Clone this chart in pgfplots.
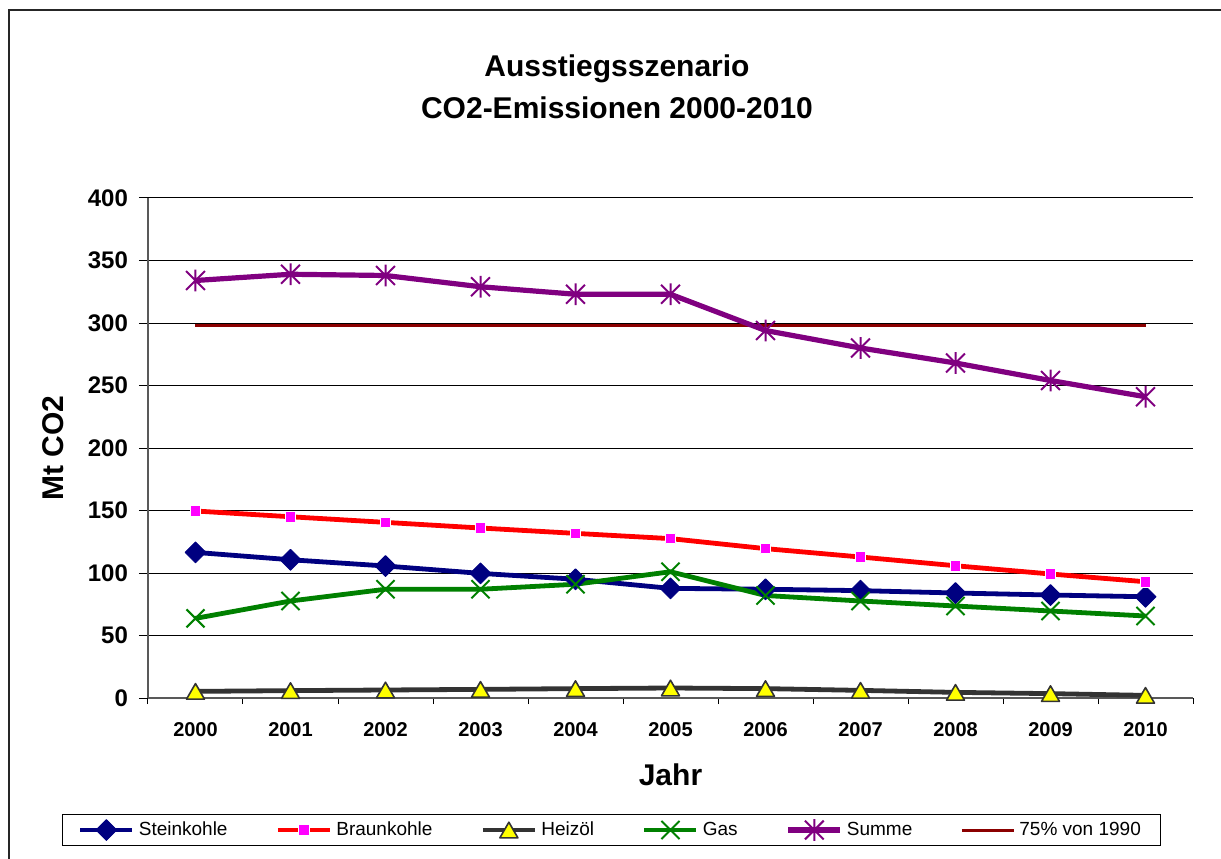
\documentclass[border=0pt]{standalone}
\usepackage{fontspec}
\setmainfont{Liberation Sans}
\usepackage{pgfplots}
\pgfplotsset{compat=1.18}
\definecolor{cNavy}{HTML}{000080}
\definecolor{cRed}{HTML}{FF0000}
\definecolor{cMag}{HTML}{FF00FF}
\definecolor{cDark}{HTML}{333333}
\definecolor{cYel}{HTML}{FFFF00}
\definecolor{cGreen}{HTML}{008000}
\definecolor{cPurple}{HTML}{800080}
\definecolor{cDRed}{HTML}{8B0000}
\pgfdeclareplotmark{xstar}{%
  \pgfpathmoveto{\pgfqpoint{-\pgfplotmarksize}{-\pgfplotmarksize}}%
  \pgfpathlineto{\pgfqpoint{\pgfplotmarksize}{\pgfplotmarksize}}%
  \pgfpathmoveto{\pgfqpoint{-\pgfplotmarksize}{\pgfplotmarksize}}%
  \pgfpathlineto{\pgfqpoint{\pgfplotmarksize}{-\pgfplotmarksize}}%
  \pgfpathmoveto{\pgfqpoint{0pt}{-1.15\pgfplotmarksize}}%
  \pgfpathlineto{\pgfqpoint{0pt}{1.15\pgfplotmarksize}}%
  \pgfusepathqstroke}
\begin{document}
\begin{tikzpicture}[x=1pt,y=1pt]
\useasboundingbox (0,0) rectangle (610.5,429);
\clip (0,0) rectangle (610.5,429);
\draw[line width=1.1pt, black!85] (4.5,-10) rectangle (620,424);
\node[font=\bfseries\fontsize{15}{18}\selectfont] at (308.5,394.5) {Ausstiegsszenario};
\node[font=\bfseries\fontsize{15}{18}\selectfont] at (308.5,375) {CO2-Emissionen 2000-2010};
\begin{axis}[
  at={(74pt,80pt)}, anchor=south west,
  scale only axis, width=522.5pt, height=250pt,
  xmin=-0.5, xmax=10.5, ymin=0, ymax=400,
  xtick={0,...,10},
  xticklabels={2000,2001,2002,2003,2004,2005,2006,2007,2008,2009,2010},
  minor xtick={-0.5,0.5,...,10.5},
  ytick={0,50,...,400},
  axis lines=left,
  axis line style={-, gray!70!black, line width=0.6pt},
  ymajorgrids, grid style={black, line width=0.5pt},
  tick align=outside, major tick length=4.5pt, minor tick length=3pt,
  tick style={black, line width=0.5pt},
  major x tick style={draw=none},
  clip=false,
  /pgf/number format/assume math mode=true,
  xticklabel style={font=\bfseries\fontsize{10}{12}\selectfont, yshift=-4pt},
  yticklabel style={font=\bfseries\fontsize{12}{14}\selectfont, xshift=-2pt},
  xlabel={Jahr}, ylabel={Mt CO2},
  label style={font=\bfseries\fontsize{15}{18}\selectfont},
  ylabel style={at={(axis description cs:-0.091,0.5)}, anchor=center},
  xlabel style={at={(axis description cs:0.5,-0.154)}, anchor=center},
  legend columns=6,
  legend cell align=left,
  legend style={at={(axis description cs:0.4435,-0.264)}, anchor=center,
    draw=black, font=\fontsize{9.5}{11}\selectfont, inner xsep=8pt, inner ysep=1.5pt,
    /tikz/every even column/.append style={column sep=22pt}},
  legend image code/.code={\draw[mark repeat=2,mark phase=2,#1] plot coordinates {(0pt,0pt) (13pt,0pt) (26pt,0pt)};},
  every axis plot/.append style={line join=round},
]
\addplot[cDRed, line width=1.5pt, forget plot] coordinates {(0,298) (10,298)};
\addplot[cNavy, line width=2.4pt, mark=square*, mark size=3.7pt,
  mark options={rotate=45, fill=cNavy, line width=0.4pt}]
  coordinates {(0,116.5) (1,110.6) (2,105.6) (3,99.7) (4,95) (5,87.7) (6,87) (7,85.9) (8,84) (9,82.4) (10,81)};
\addlegendentry{Steinkohle}
\addplot[cRed, line width=2.4pt, mark=square*, mark size=2.6pt,
  mark options={fill=cMag, draw=white, line width=0.4pt}]
  coordinates {(0,149.6) (1,145) (2,140.5) (3,136) (4,131.7) (5,127.5) (6,119.5) (7,112.8) (8,105.8) (9,99.2) (10,93)};
\addlegendentry{Braunkohle}
\addplot[cDark, line width=2.4pt, mark=triangle*, mark size=5.2pt,
  mark options={fill=cYel, draw=cDark, line width=0.8pt, yshift=-1.3pt}]
  coordinates {(0,5.3) (1,5.9) (2,6.4) (3,6.9) (4,7.5) (5,8) (6,7.5) (7,6.1) (8,4.5) (9,3.5) (10,2.1)};
\addlegendentry{Heizöl}
\addplot[cGreen, line width=2.4pt, mark=x, mark size=6.4pt,
  mark options={line width=1pt}]
  coordinates {(0,63.7) (1,77.6) (2,87) (3,87) (4,91) (5,101) (6,82) (7,77.6) (8,73.6) (9,69.6) (10,65.6)};
\addlegendentry{Gas}
\addplot[cPurple, line width=2.6pt, mark=xstar, mark size=4.7pt,
  mark options={line width=1pt}]
  coordinates {(0,334) (1,339) (2,338) (3,329) (4,323) (5,323) (6,294) (7,280) (8,268) (9,254) (10,241)};
\addlegendentry{Summe}
\addlegendimage{cDRed, line width=1.5pt}
\addlegendentry{75\% von 1990}
\end{axis}
\end{tikzpicture}
\end{document}
